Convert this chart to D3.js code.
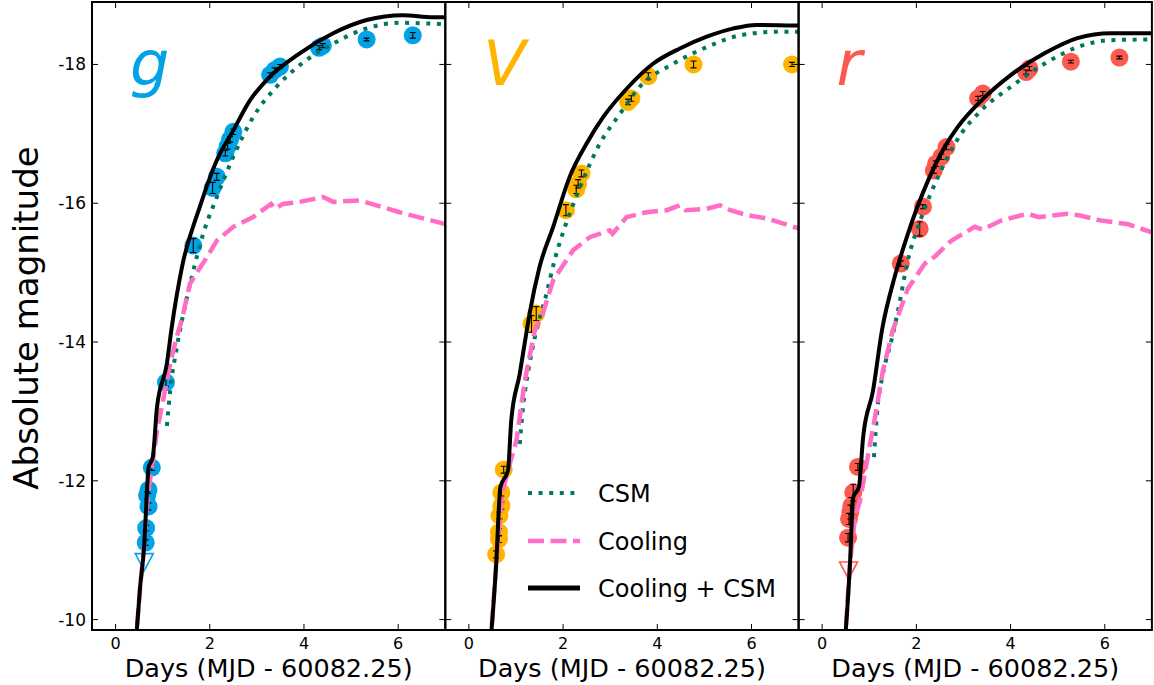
<!DOCTYPE html>
<html>
<head>
<meta charset="utf-8">
<script src="https://cdn.jsdelivr.net/npm/d3@7"></script>
<style>
  html, body { margin: 0; padding: 0; background: #fff; }
  svg { display: block; }
  text { font-family: "DejaVu Sans", sans-serif; fill: #000; }
</style>
</head>
<body>
<svg id="chart" width="1154" height="685"></svg>
<script>
// ---------------- DATA ----------------
const bands = ["g", "V", "r"];
const bandColors = ["#02a3e6", "#ffb400", "#fd5a4f"];
const xTicks = [0, 2, 4, 6];
const yTicks = [-18, -16, -14, -12, -10];
const legendLabels = ["CSM", "Cooling", "Cooling + CSM"];

// g band observations
const gDays = [0.64, 0.65, 0.70, 0.67, 0.70, 0.77, 1.07, 1.65, 2.06, 2.15, 2.33, 2.38, 2.43, 2.50, 3.28, 3.38, 3.49, 4.32, 4.40, 5.33, 6.31];
const gMag  = [-11.11, -11.32, -11.63, -11.79, -11.87, -12.19, -13.42, -15.39, -16.22, -16.38, -16.72, -16.82, -16.92, -17.03, -17.85, -17.92, -17.97, -18.24, -18.27, -18.36, -18.42];
const gErr  = [0.04, 0.04, 0.05, 0.05, 0.05, 0.04, 0.06, 0.10, 0.08, 0.05, 0.04, 0.04, 0.04, 0.04, 0.03, 0.03, 0.03, 0.03, 0.03, 0.02, 0.04];
const gLimDays = [0.61];
const gLimMag  = [-10.85];

// V band observations
const vDays = [0.58, 0.64, 0.64, 0.65, 0.69, 0.69, 0.74, 1.33, 1.43, 2.06, 2.28, 2.32, 2.39, 3.38, 3.45, 3.81, 4.77, 6.86];
const vMag  = [-10.94, -11.16, -11.26, -11.50, -11.64, -11.83, -12.16, -14.26, -14.41, -15.90, -16.20, -16.28, -16.43, -17.46, -17.51, -17.83, -18.00, -18.00];
const vErr  = [0.05, 0.05, 0.05, 0.05, 0.05, 0.05, 0.05, 0.12, 0.10, 0.08, 0.06, 0.06, 0.05, 0.04, 0.04, 0.05, 0.05, 0.03];
const vLimDays = [];
const vLimMag  = [];

// r band observations
const rDays = [0.55, 0.57, 0.60, 0.62, 0.66, 0.76, 1.67, 2.07, 2.14, 2.37, 2.42, 2.53, 2.64, 3.31, 3.41, 4.33, 4.40, 5.28, 6.31];
const rMag  = [-11.18, -11.45, -11.55, -11.64, -11.83, -12.20, -15.13, -15.63, -15.95, -16.47, -16.57, -16.67, -16.81, -17.51, -17.58, -17.89, -17.94, -18.04, -18.10];
const rErr  = [0.06, 0.08, 0.10, 0.12, 0.12, 0.05, 0.04, 0.10, 0.03, 0.04, 0.04, 0.04, 0.04, 0.03, 0.03, 0.03, 0.03, 0.02, 0.02];
const rLimDays = [0.56];
const rLimMag  = [-10.73];

// g band models
const gTotalT = [0.42, 0.45, 0.52, 0.61, 0.66, 0.70, 0.79, 0.88, 1.09, 1.19, 1.41, 1.79, 2.15, 2.50, 2.85, 3.20, 3.91, 4.62, 5.33, 6.10, 6.74, 7.0];
const gTotalM = [-9.6, -9.84, -10.46, -11.09, -11.76, -12.19, -12.34, -13.06, -13.69, -14.20, -15.08, -15.95, -16.62, -17.05, -17.48, -17.77, -18.16, -18.45, -18.64, -18.71, -18.68, -18.68];
const gCsmT = [1.09, 1.16, 1.30, 1.41, 1.62, 1.86, 2.15, 2.50, 2.92, 3.42, 3.91, 4.62, 5.33, 6.03, 7.0];
const gCsmM = [-12.79, -13.30, -13.92, -14.31, -14.94, -15.56, -16.09, -16.67, -17.24, -17.68, -17.99, -18.30, -18.52, -18.60, -18.58];
const gCoolT = [0.42, 0.45, 0.52, 0.61, 0.66, 0.72, 0.88, 1.02, 1.16, 1.30, 1.40, 1.58, 1.82, 1.90, 2.15, 2.50, 2.92, 3.30, 3.39, 3.55, 3.91, 4.41, 4.62, 5.18, 5.54, 6.03, 7.0];
const gCoolM = [-9.6, -9.84, -10.46, -11.09, -11.60, -11.95, -12.72, -13.20, -13.69, -14.08, -14.30, -14.84, -15.10, -15.18, -15.46, -15.66, -15.80, -15.99, -15.92, -15.99, -16.02, -16.09, -16.02, -16.04, -15.97, -15.87, -15.70];

// V band models
const vTotalT = [0.45, 0.48, 0.58, 0.67, 0.83, 0.90, 1.08, 1.23, 1.29, 1.50, 1.79, 2.14, 2.50, 2.85, 3.35, 3.91, 4.48, 5.05, 5.62, 6.11, 7.0];
const vTotalM = [-9.6, -9.84, -10.80, -11.91, -12.15, -12.87, -13.54, -14.17, -14.41, -15.08, -15.66, -16.38, -16.86, -17.24, -17.65, -18.01, -18.23, -18.40, -18.52, -18.57, -18.56];
const vCsmT = [1.08, 1.15, 1.29, 1.40, 1.65, 1.82, 2.04, 2.36, 2.78, 3.21, 3.63, 4.34, 5.05, 5.76, 6.54, 7.0];
const vCsmM = [-12.53, -13.06, -13.69, -14.07, -14.70, -15.18, -15.66, -16.23, -16.86, -17.29, -17.68, -18.01, -18.25, -18.42, -18.47, -18.47];
const vCoolT = [0.45, 0.48, 0.58, 0.70, 0.85, 1.01, 1.19, 1.40, 1.57, 1.79, 2.21, 2.57, 2.99, 3.05, 3.35, 3.77, 4.20, 4.48, 4.60, 5.05, 5.33, 5.55, 5.90, 6.33, 6.89, 7.0];
const vCoolM = [-9.6, -9.84, -10.80, -11.80, -12.20, -12.58, -13.45, -14.17, -14.41, -14.89, -15.32, -15.51, -15.61, -15.56, -15.80, -15.87, -15.90, -15.97, -15.90, -15.92, -15.97, -15.90, -15.83, -15.78, -15.66, -15.64];

// r band models
const rTotalT = [0.47, 0.50, 0.59, 0.66, 0.78, 0.87, 1.08, 1.27, 1.54, 1.82, 2.25, 2.60, 2.88, 3.38, 4.01, 4.72, 5.42, 6.13, 7.0];
const rTotalM = [-9.6, -9.84, -10.80, -11.76, -11.91, -12.63, -13.30, -14.17, -14.94, -15.56, -16.33, -16.81, -17.10, -17.48, -17.85, -18.16, -18.38, -18.45, -18.45];
const rCsmT = [1.10, 1.17, 1.29, 1.47, 1.61, 1.82, 2.11, 2.46, 2.95, 3.38, 4.01, 4.72, 5.42, 6.13, 7.0];
const rCsmM = [-12.34, -13.01, -13.54, -14.02, -14.45, -15.18, -15.80, -16.38, -17.00, -17.34, -17.68, -18.01, -18.25, -18.35, -18.36];
const rCoolT = [0.47, 0.50, 0.59, 0.70, 0.80, 0.94, 1.12, 1.29, 1.50, 1.82, 2.18, 2.39, 2.74, 3.24, 3.40, 3.80, 4.36, 4.60, 5.21, 5.50, 5.92, 6.48, 7.0];
const rCoolM = [-9.6, -9.84, -10.80, -11.50, -11.70, -12.24, -12.91, -13.59, -14.17, -14.77, -15.13, -15.23, -15.46, -15.66, -15.62, -15.75, -15.85, -15.80, -15.85, -15.82, -15.75, -15.70, -15.58];

// ---------------- LAYOUT ----------------
const svg = d3.select("#chart");
const plotLeft = 92, plotTop = 2, plotBottom = 630, panelW = 353.3;
const colCsm = "#00775f", colCool = "#ff6ec4", colTotal = "#000";

const y = d3.scaleLinear().domain([-9.85, -18.9]).range([plotBottom, plotTop]);

const panels = [
  {band: bands[0], color: bandColors[0], days: gDays, mag: gMag, err: gErr, limD: gLimDays, limM: gLimMag,
   tot: [gTotalT, gTotalM], csm: [gCsmT, gCsmM], cool: [gCoolT, gCoolM]},
  {band: bands[1], color: bandColors[1], days: vDays, mag: vMag, err: vErr, limD: vLimDays, limM: vLimMag,
   tot: [vTotalT, vTotalM], csm: [vCsmT, vCsmM], cool: [vCoolT, vCoolM]},
  {band: bands[2], color: bandColors[2], days: rDays, mag: rMag, err: rErr, limD: rLimDays, limM: rLimMag,
   tot: [rTotalT, rTotalM], csm: [rCsmT, rCsmM], cool: [rCoolT, rCoolM]}
];

panels.forEach((p, i) => {
  const x0 = plotLeft + i * panelW;
  const x = d3.scaleLinear().domain([-0.5, 7]).range([x0, x0 + panelW]);
  const g = svg.append("g");
  const clipId = "clip" + i;
  svg.append("clipPath").attr("id", clipId).append("rect")
    .attr("x", x0).attr("y", plotTop).attr("width", panelW).attr("height", plotBottom - plotTop);
  const inner = g.append("g").attr("clip-path", `url(#${clipId})`);

  // observations
  const pts = p.days.map((d, k) => ({t: d, m: p.mag[k], e: p.err[k]}));
  inner.selectAll("circle.obs").data(pts).enter().append("circle")
    .attr("cx", d => x(d.t)).attr("cy", d => y(d.m)).attr("r", 9)
    .attr("fill", p.color);
  // error bars
  const eb = inner.selectAll("g.eb").data(pts).enter().append("g");
  eb.append("line").attr("x1", d => x(d.t)).attr("x2", d => x(d.t))
    .attr("y1", d => y(d.m - d.e)).attr("y2", d => y(d.m + d.e))
    .attr("stroke", "#000").attr("stroke-width", 1.1);
  [-1, 1].forEach(s => {
    eb.append("line").attr("x1", d => x(d.t) - 3).attr("x2", d => x(d.t) + 3)
      .attr("y1", d => y(d.m + s * d.e)).attr("y2", d => y(d.m + s * d.e))
      .attr("stroke", "#000").attr("stroke-width", 1.1);
  });
  // upper limits
  const lims = p.limD.map((d, k) => ({t: d, m: p.limM[k]}));
  inner.selectAll("path.lim").data(lims).enter().append("path")
    .attr("d", d => {
      const cx = x(d.t), cy = y(d.m);
      return `M${cx - 9},${cy - 7}L${cx + 9},${cy - 7}L${cx},${cy + 10}Z`;
    })
    .attr("fill", "none").attr("stroke", p.color).attr("stroke-width", 1.6);

  // model lines
  const smooth = d3.line().x(d => x(d[0])).y(d => y(d[1])).curve(d3.curveMonotoneX);
  const lin = d3.line().x(d => x(d[0])).y(d => y(d[1]));
  const toPts = arr => arr[0].map((t, k) => [t, arr[1][k]]);
  inner.append("path").attr("d", smooth(toPts(p.csm)))
    .attr("fill", "none").attr("stroke", colCsm).attr("stroke-width", 4)
    .attr("stroke-dasharray", "4,6.6");
  inner.append("path").attr("d", lin(toPts(p.cool)))
    .attr("fill", "none").attr("stroke", colCool).attr("stroke-width", 4.5)
    .attr("stroke-dasharray", "16,6.5");
  inner.append("path").attr("d", smooth(toPts(p.tot)))
    .attr("fill", "none").attr("stroke", colTotal).attr("stroke-width", 4)
    .attr("stroke-linejoin", "round");

  // band label
  g.append("text").attr("x", x0 + 38).attr("y", 85)
    .attr("font-size", 62).attr("font-style", "italic")
    .style("fill", p.color).text(p.band);

  // ticks (inside, mirrored)
  const tk = g.append("g").attr("stroke", "#000").attr("stroke-width", 1);
  xTicks.forEach(v => {
    tk.append("line").attr("x1", x(v)).attr("x2", x(v)).attr("y1", plotBottom).attr("y2", plotBottom - 6);
    tk.append("line").attr("x1", x(v)).attr("x2", x(v)).attr("y1", plotTop).attr("y2", plotTop + 6);
  });
  yTicks.forEach(v => {
    tk.append("line").attr("x1", x0).attr("x2", x0 + 6).attr("y1", y(v)).attr("y2", y(v));
    tk.append("line").attr("x1", x0 + panelW).attr("x2", x0 + panelW - 6).attr("y1", y(v)).attr("y2", y(v));
  });

  // x tick labels
  g.selectAll("text.xt").data(xTicks).enter().append("text")
    .attr("x", d => x(d)).attr("y", 649).attr("text-anchor", "middle")
    .attr("font-size", 16).text(d => d);

  // y tick labels (first panel only)
  if (i === 0) {
    g.selectAll("text.yt").data(yTicks).enter().append("text")
      .attr("x", x0 - 6).attr("y", d => y(d) + 6).attr("text-anchor", "end")
      .attr("font-size", 17).text(d => "-" + Math.abs(d));
  }

  // x axis label
  g.append("text").attr("x", x0 + panelW / 2).attr("y", 677).attr("text-anchor", "middle")
    .attr("font-size", 25.5).text("Days (MJD - 60082.25)");

  // frame
  g.append("rect").attr("x", x0).attr("y", plotTop).attr("width", panelW).attr("height", plotBottom - plotTop)
    .attr("fill", "none").attr("stroke", "#000").attr("stroke-width", 2);

  // legend in middle panel
  if (i === 1) {
    const lg = g.append("g");
    const styles = [
      {c: colCsm, w: 4, da: "4,6.6"},
      {c: colCool, w: 4.5, da: "16,6.5"},
      {c: colTotal, w: 5, da: null}
    ];
    const rowsY = [493, 541, 588];
    styles.forEach((s, k) => {
      const l = lg.append("line").attr("x1", 528).attr("x2", 580)
        .attr("y1", rowsY[k]).attr("y2", rowsY[k])
        .attr("stroke", s.c).attr("stroke-width", s.w);
      if (s.da) l.attr("stroke-dasharray", s.da);
      lg.append("text").attr("x", 598).attr("y", rowsY[k] + 8.5)
        .attr("font-size", 24).text(legendLabels[k]);
    });
  }
});

// y axis label
svg.append("text").attr("transform", "translate(38,318) rotate(-90)")
  .attr("text-anchor", "middle").attr("font-size", 34).text("Absolute magnitude");
</script>
</body>
</html>
